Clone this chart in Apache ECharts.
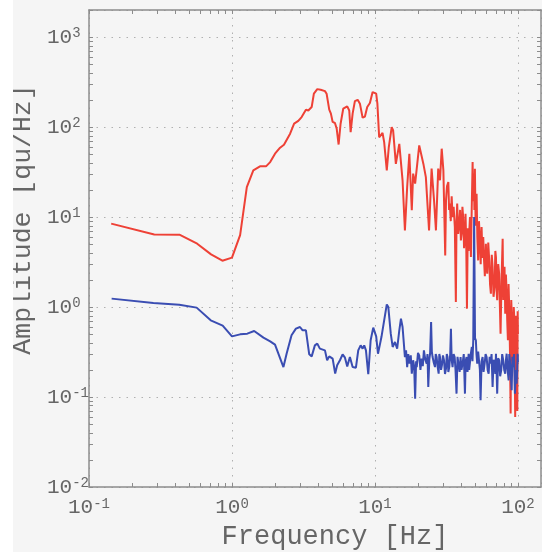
<!DOCTYPE html>
<html>
<head>
<meta charset="utf-8">
<script src="https://cdn.jsdelivr.net/npm/echarts@6/dist/echarts.min.js"></script>
<style>
    html, body { margin: 0; background: #fff; }
    #chart { position: absolute; left: 13px; top: 0; width: 529px; height: 552px; background: #f5f5f5; }
</style>
</head>
<body>
<div id="chart"></div>
<script>
// 频谱数据 (Hz, qu/Hz)
var redFreq = [0.143, 0.286, 0.429, 0.571, 0.714, 0.857, 1.0, 1.14, 1.27, 1.41, 1.57, 1.73, 1.85, 2.0, 2.17, 2.31,
    2.55, 2.72, 2.91, 3.07, 3.29, 3.42, 3.51, 3.61, 3.74, 3.95, 4.17, 4.47, 4.59, 4.79, 4.92, 5.06, 5.25, 5.4,
    5.57, 5.75, 6.0, 6.4, 6.61, 6.76, 6.98, 7.24, 7.57, 7.85, 8.2, 8.51, 8.83, 9.22, 9.63, 9.84, 10.2, 10.4,
    10.7, 11.0, 11.3, 11.6, 12.1, 12.5, 13.1, 13.4, 14.0, 14.8, 15.6, 16.2, 16.8, 17.4, 18.1, 18.5, 19.1, 20.4,
    21.8, 22.7, 23.9, 24.9, 25.9, 26.7, 27.7, 28.5, 29.3, 30.1, 31.0,
    31.4, 31.9, 32.6, 33.0, 33.4, 33.9, 34.4, 34.9, 35.5, 36.2, 36.8, 37.2, 37.6, 38.2, 38.9, 39.4, 39.9, 40.4,
    40.9, 41.4, 42.0, 42.6, 43.0, 43.5, 44.0, 44.6, 45.2, 45.6, 46.2, 46.9, 47.5, 48.2, 48.6, 49.2, 49.6, 50.0,
    50.6, 51.4, 52.0, 52.7, 53.4, 54.2, 54.9, 55.7, 56.5, 57.2, 57.8, 58.7, 59.7, 60.3, 61.0, 62.0, 63.0, 63.8,
    64.7, 65.6, 66.5, 67.5, 68.7, 69.5, 70.2, 71.0, 71.6, 72.8, 73.9, 74.8, 75.6, 76.8, 78.2, 79.0, 79.8, 80.6,
    81.5, 82.4, 83.4, 84.2, 85.1, 86.0, 86.9, 87.9, 88.9, 89.8, 90.8, 91.7, 92.7, 93.5, 94.2, 95.0, 95.7, 96.8,
    97.9, 98.5, 99.0, 99.6, 100];
var redAmp = [8.45, 6.4, 6.37, 5.06, 3.85, 3.27, 3.54, 6.3, 21.5, 33, 36.6, 36.6, 40.8, 50.6, 59, 63.7,
    84.5, 109, 117, 129, 156, 153, 151, 167, 235, 264, 260, 251, 235, 156, 141, 114, 111, 96,
    64, 109, 160, 170, 153, 88, 141, 194, 201, 182, 127, 131, 167, 185, 245, 249, 235, 182,
    77, 79, 86, 68, 33, 60, 100, 92, 39, 65, 25.6, 7.1, 21.5, 50.6, 11.9, 30.4, 23.5, 62.6,
    39.2, 27.8, 7.1, 34.5, 15.3, 7.1, 34.5, 25.6, 57.5, 33, 3.75,
    15.3, 22, 24.5, 12, 14.1, 9, 17, 10, 13, 7.74, 1.14, 9, 14.1, 6.5, 8.45, 12, 5.5, 6.54,
    13, 10, 4.5, 6.0, 10.9, 5, 0.96, 7.5, 4.2, 6.54, 10, 3.59, 12, 40.8, 15, 30.4, 12, 34.5,
    8, 18.2, 6, 3.3, 9, 5.51, 3.0, 7.74, 3.5, 6, 3.59, 2.2, 5.06, 2.8, 2.35, 5.2, 3.3, 1.8,
    1.41, 3.8, 2.78, 1.3, 1.67, 4.2, 3.59, 1.5, 1.19, 3.0, 2.35, 1.0, 0.506, 2.0, 5.75, 1.2, 1.67, 2.8,
    0.845, 2.3, 1.41, 0.7, 0.427, 1.8, 1.0, 0.35, 0.0654, 1.2, 0.711, 0.25, 0.303, 1.0, 0.774, 0.2, 0.06, 0.8,
    0.551, 0.12, 0.07, 0.9, 0.5];

var blueFreq = [0.144, 0.282, 0.428, 0.566, 0.71, 0.861, 1.0, 1.14, 1.28, 1.43, 1.66, 1.85, 2.0, 2.29, 2.41,
    2.61, 2.8, 2.99, 3.12, 3.29, 3.47, 3.61, 3.8, 3.95, 4.12, 4.47, 4.63, 4.79, 5.06, 5.27, 5.44, 5.69, 5.94,
    6.17, 6.4, 6.68, 6.98, 7.36, 7.64, 7.94, 8.2, 8.41, 8.65, 8.98, 9.33, 9.73, 10.2, 10.5, 10.8, 11.1, 11.6,
    12.1, 12.4, 12.9, 13.3, 13.8, 14.3, 14.8, 15.2, 15.6,
    16.2, 16.5, 16.8, 17.1, 17.4, 17.8, 18.1, 18.5, 18.8, 19.1, 19.4, 19.6, 20.0, 20.4, 20.8, 21.2, 21.6, 22.0,
    22.5, 23.0, 23.3, 23.6, 24.0, 24.3, 24.7, 25.0, 25.3, 25.8, 26.3, 26.6, 27.0, 27.4, 27.9, 28.2, 28.5, 29.0,
    29.4, 29.9, 30.4, 30.9, 31.4, 31.8, 32.2, 32.6, 33.1, 33.6, 34.0, 34.4, 34.9, 35.5, 36.1, 36.6, 37.2, 37.8,
    38.5, 39.1, 39.7, 40.3, 41.0, 41.8, 42.6, 43.1, 43.7, 44.4, 45.2, 45.6, 46.1, 46.8, 47.6, 48.1, 48.7, 49.4,
    50.1, 50.8, 51.3, 51.9, 52.7, 53.6, 54.2, 54.8, 55.7, 56.6, 57.5, 58.5, 59.4, 60.4, 61.4, 62.4, 63.4, 64.4,
    65.4, 66.5, 67.6, 68.7, 69.5, 70.2, 70.9, 71.6, 72.7, 73.9, 75.1, 76.4, 77.6, 78.9, 80.2, 81.5, 82.5, 83.4,
    84.7, 86.1, 87.0, 87.9, 89.1, 90.4, 91.5, 92.7, 94.0, 95.3, 96.6, 97.9, 98.7, 99.5, 100];
var blueAmp = [1.24, 1.11, 1.06, 0.985, 0.711, 0.621, 0.472, 0.497, 0.506, 0.541, 0.457, 0.416, 0.382, 0.215, 0.303,
    0.485, 0.575, 0.6, 0.551, 0.551, 0.298, 0.283, 0.375, 0.392, 0.345, 0.33, 0.256, 0.283, 0.267, 0.182, 0.225, 0.256, 0.298,
    0.274, 0.219, 0.278, 0.215, 0.212, 0.33, 0.375, 0.345, 0.375, 0.33, 0.179, 0.427, 0.59, 0.472, 0.303, 0.375, 0.464, 0.711,
    1.07, 1.0, 0.506, 0.36, 0.409, 0.345, 0.551, 0.743, 0.6,
    0.278, 0.33, 0.215, 0.3, 0.235, 0.29, 0.182, 0.256, 0.22, 0.096, 0.25, 0.215, 0.31, 0.29, 0.2, 0.267, 0.22, 0.33,
    0.26, 0.235, 0.3, 0.129, 0.26, 0.303, 0.681, 0.32, 0.278, 0.24, 0.215, 0.3, 0.278, 0.22, 0.182, 0.3, 0.278, 0.2,
    0.225, 0.29, 0.256, 0.18, 0.207, 0.3, 0.278, 0.19, 0.215, 0.3, 0.575, 0.26, 0.215, 0.3, 0.278, 0.2, 0.109, 0.28,
    0.267, 0.19, 0.278, 0.2, 0.235, 0.3, 0.109, 0.25, 0.278, 0.19, 0.303, 0.2, 0.235, 0.3, 0.36, 0.25, 0.427, 10,
    0.45, 0.427, 0.3, 0.235, 0.32, 0.33, 0.2, 0.092, 0.25, 0.278, 0.19, 0.235, 0.3, 0.278, 0.2, 0.182, 0.28, 0.235,
    0.3, 0.129, 0.26, 0.235, 0.18, 0.303, 0.2, 0.109, 0.27, 0.256, 0.17, 0.198, 0.3, 0.256, 0.2, 0.182, 0.26, 0.303,
    0.2, 0.153, 0.3, 0.256, 0.18, 0.119, 0.28, 0.215, 0.3, 0.109, 0.2, 0.141, 0.19, 0.303, 0.245];

var xRange = [0.1, 145];
var yRange = [0.01, 2000];

var font = 'Liberation Mono';
var axisColor = '#8c8c8c';
var textColor = '#666';

// 对数刻度: 1..9 x 10^n
function logTicks(lo, hi) {
    var out = [];
    for (var e = Math.floor(Math.log10(lo)); e <= Math.ceil(Math.log10(hi)); e++) {
        for (var k = 1; k <= 9; k++) {
            var v = k * Math.pow(10, e);
            if (v >= lo * 0.999 && v <= hi * 1.001) out.push(v);
        }
    }
    return out;
}

function powerLabel(v) {
    var p = Math.log10(v), e = Math.round(p);
    if (Math.abs(p - e) > 0.01) return '';
    return '{b|10}{s|' + e + '}';
}

var labelRich = {
    b: { fontFamily: font, fontSize: 21, color: textColor, lineHeight: 21, padding: [8, 0, 0, 0], verticalAlign: 'bottom' },
    s: { fontFamily: font, fontSize: 14, color: textColor, lineHeight: 14, verticalAlign: 'top' }
};

// 带小刻度的边框轴 (不画网格线)
function frameAxis(range, ticks, pos, withLabel) {
    return {
        type: 'log',
        logBase: 10,
        min: range[0],
        max: range[1],
        position: pos,
        axisLine: { show: true, onZero: false, lineStyle: { color: axisColor, width: 1.5 } },
        axisTick: { show: true, inside: true, length: 4, customValues: ticks, lineStyle: { color: axisColor } },
        splitLine: { show: false },
        axisLabel: { show: withLabel, formatter: powerLabel, rich: labelRich },
        silent: true
    };
}

// 只画主刻度网格线的轴
function gridAxis(range, pos) {
    return {
        type: 'log',
        logBase: 10,
        min: range[0],
        max: range[1],
        position: pos,
        axisLine: { show: false, onZero: false },
        axisTick: { show: false },
        axisLabel: { show: false },
        splitLine: { show: true, lineStyle: { color: '#b0b0b0', width: 1, type: [1.5, 6] } },
        silent: true
    };
}

var xTicks = logTicks(xRange[0], xRange[1]);
var yTicks = logTicks(yRange[0], yRange[1]);

var xBottom = frameAxis(xRange, xTicks, 'bottom', true);
xBottom.axisLabel.margin = 10;
xBottom.name = 'Frequency [Hz]';
xBottom.nameLocation = 'middle';
xBottom.nameGap = 34;
xBottom.nameTextStyle = { fontFamily: font, fontSize: 27, color: textColor, padding: [0, 0, 0, 40] };

var yLeft = frameAxis(yRange, yTicks, 'left', true);
yLeft.axisLabel.align = 'left';
yLeft.axisLabel.margin = 42;
yLeft.name = 'Amplitude [qu/Hz]';
yLeft.nameLocation = 'middle';
yLeft.nameGap = 49;
yLeft.nameTextStyle = { fontFamily: font, fontSize: 26.5, color: textColor, padding: [0, 0, 0, 58] };

var chart = echarts.init(document.getElementById('chart'));
chart.setOption({
    animation: false,
    backgroundColor: '#f5f5f5',
    grid: { left: 76, right: 1, top: 10, bottom: 65, containLabel: false, outerBoundsMode: 'none' },
    xAxis: [xBottom, frameAxis(xRange, xTicks, 'top', false), gridAxis(xRange, 'bottom')],
    yAxis: [yLeft, frameAxis(yRange, yTicks, 'right', false), gridAxis(yRange, 'left')],
    series: [{
        name: 'red',
        type: 'line',
        showSymbol: false,
        data: redFreq.map(function (f, i) { return [f, redAmp[i]]; }),
        lineStyle: { color: '#ee4136', width: 2 }
    }, {
        name: 'blue',
        type: 'line',
        showSymbol: false,
        data: blueFreq.map(function (f, i) { return [f, blueAmp[i]]; }),
        lineStyle: { color: '#3a4db2', width: 2 }
    }]
});
</script>
</body>
</html>
